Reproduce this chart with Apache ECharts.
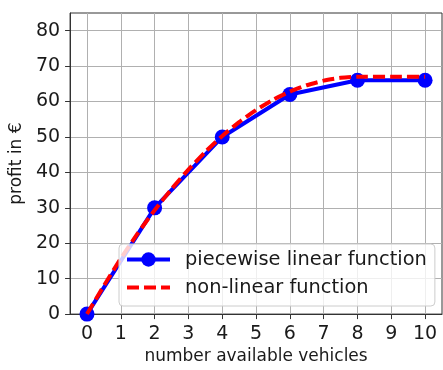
<!DOCTYPE html>
<html>
<head>
<meta charset="utf-8">
<script src="https://cdn.jsdelivr.net/npm/echarts@6/dist/echarts.min.js"></script>
<style>
  html, body { margin: 0; padding: 0; background: #fff; }
  #chart { width: 443px; height: 370px; }
</style>
</head>
<body>
<div id="chart"></div>
<script>
// Vehicles available and the resulting profit (in €)
const vehicles = [0, 2, 4, 6, 8, 10];
const piecewiseProfit = [0, 30, 50, 62, 66, 66];
const curveVehicles = [0, 0.5, 1, 1.5, 2, 2.5, 3, 3.5, 4, 4.5, 5, 5.5, 6, 6.5, 7, 7.5, 8, 9, 10];
const curveProfit = [0, 8, 15.7, 22.8, 29.3, 35.3, 40.8, 45.8, 50.3, 54.2, 57.6, 60.5, 62.8, 64.6, 65.9, 66.7, 67, 67, 67];
const xTicks = [0, 1, 2, 3, 4, 5, 6, 7, 8, 9, 10];
const yTicks = [0, 10, 20, 30, 40, 50, 60, 70, 80];

const font = 'DejaVu Sans';
const pair = (xs, ys) => xs.map((x, i) => [x, ys[i]]);

const chart = echarts.init(document.getElementById('chart'), null, { renderer: 'canvas' });
chart.setOption({
  animation: false,
  grid: {
    left: 69, right: 1, top: 13, bottom: 53,
    show: true, borderColor: '#333', borderWidth: 1, backgroundColor: 'transparent'
  },
  xAxis: {
    type: 'value', min: -0.5, max: 10.5,
    name: 'number available vehicles', nameLocation: 'middle', nameGap: 33,
    nameTextStyle: { fontFamily: font, fontSize: 17, color: '#1a1a1a' },
    axisLine: { show: true, onZero: false, lineStyle: { color: '#333', width: 1 } },
    axisTick: { show: true, length: 5, customValues: xTicks, lineStyle: { color: '#333' } },
    axisLabel: { customValues: xTicks, fontFamily: font, fontSize: 19, color: '#1a1a1a', margin: 10 },
    splitLine: { show: true, lineStyle: { color: '#b0b0b0', width: 1 } }
  },
  yAxis: {
    type: 'value', min: 0, max: 85,
    name: 'profit in €', nameLocation: 'middle', nameGap: 40, nameRotate: 90,
    nameTextStyle: { fontFamily: font, fontSize: 17, color: '#1a1a1a' },
    axisLine: { show: true, onZero: false, lineStyle: { color: '#333', width: 1 } },
    axisTick: { show: true, length: 5, customValues: yTicks, lineStyle: { color: '#333' } },
    axisLabel: { customValues: yTicks, fontFamily: font, fontSize: 19, color: '#1a1a1a', margin: 10 },
    splitLine: { show: true, lineStyle: { color: '#b0b0b0', width: 1 } }
  },
  legend: {
    left: 119, top: 244,
    orient: 'vertical',
    padding: [6, 8, 9, 6],
    itemGap: 9,
    itemWidth: 43, itemHeight: 18,
    backgroundColor: 'rgba(255,255,255,0.8)',
    borderColor: '#cccccc', borderWidth: 1, borderRadius: 4,
    lineStyle: { width: 4 },
    textStyle: { fontFamily: font, fontSize: 19.4, color: '#1a1a1a', padding: [0, 0, 0, 10] },
    data: [
      { name: 'piecewise linear function' },
      { name: 'non-linear function', itemStyle: { color: 'rgba(0,0,0,0)', borderColor: 'rgba(0,0,0,0)', borderWidth: 0 } }
    ]
  },
  series: [
    {
      name: 'piecewise linear function',
      type: 'line',
      data: pair(vehicles, piecewiseProfit),
      symbol: 'circle', symbolSize: 15,
      itemStyle: { color: '#0000ff' },
      lineStyle: { color: '#0000ff', width: 4 },
      z: 2
    },
    {
      name: 'non-linear function',
      type: 'line',
      data: pair(curveVehicles, curveProfit),
      smooth: 0.2,
      symbol: 'none',
      itemStyle: { color: '#ff0000' },
      lineStyle: { color: '#ff0000', width: 4, type: [12, 5] },
      z: 3
    }
  ]
});
</script>
</body>
</html>
